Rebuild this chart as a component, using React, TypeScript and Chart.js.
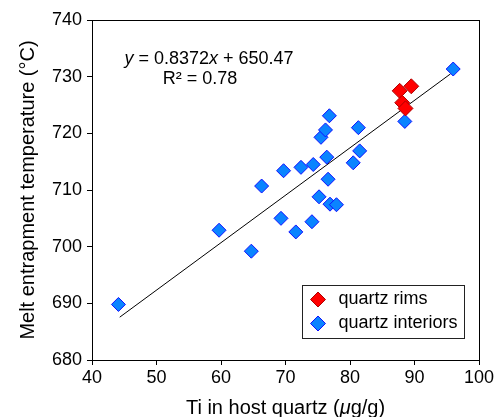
import React, { useEffect, useRef } from 'react';
import { Chart, registerables } from 'chart.js';

Chart.register(...registerables);

const FONT = '"Liberation Sans", Arial, Helvetica, sans-serif';

// Quartz rims (red)
const rimsTi = [87.7, 89.5, 88.1, 88.6];
const rimsT = [727.5, 728.3, 725.4, 724.4];

// Quartz interiors (blue)
const intTi = [44.1, 59.7, 64.7, 66.3, 69.3, 69.7, 71.6, 72.4, 74.1, 74.3, 75.2, 75.5, 76.2, 76.4, 76.6, 76.8, 76.9, 77.9, 80.5, 81.3, 81.5, 88.5, 96.0];
const intT = [689.8, 702.9, 699.2, 710.7, 705.0, 713.4, 702.6, 714.0, 704.4, 714.5, 708.8, 719.3, 720.6, 715.8, 711.9, 723.1, 707.5, 707.4, 714.8, 721.0, 716.9, 722.1, 731.35];

// Regression line y = slope * x + intercept, drawn over this x range
const slope = 0.8372;
const intercept = 650.47;
const fitX = [44.3, 95.6];

const seriesLabels = ['quartz rims', 'quartz interiors'];
const xTitleParts = ['Ti in host quartz (', 'μ', 'g/g)'];
const yTitle = 'Melt entrapment temperature (°C)';
const r2Text = 'R² = 0.78';

function diamond(ctx: CanvasRenderingContext2D, x: number, y: number, r: number) {
  ctx.beginPath();
  ctx.moveTo(x - r, y);
  ctx.lineTo(x, y - r);
  ctx.lineTo(x + r, y);
  ctx.lineTo(x, y + r);
  ctx.closePath();
}

function drawSegments(
  ctx: CanvasRenderingContext2D,
  parts: { t: string; italic?: boolean }[],
  cx: number,
  baseline: number,
  size: number
) {
  const fonts = parts.map((p) => `${p.italic ? 'italic ' : ''}${size}px ${FONT}`);
  let total = 0;
  const widths = parts.map((p, i) => {
    ctx.font = fonts[i];
    const w = ctx.measureText(p.t).width;
    total += w;
    return w;
  });
  let x = cx - total / 2;
  ctx.textAlign = 'left';
  ctx.textBaseline = 'alphabetic';
  parts.forEach((p, i) => {
    ctx.font = fonts[i];
    ctx.fillText(p.t, x, baseline);
    x += widths[i];
  });
}

const decor = {
  id: 'decor',
  afterDraw(chart: any) {
    const { ctx, chartArea: a } = chart;
    ctx.save();
    // plot frame
    ctx.strokeStyle = '#000';
    ctx.lineWidth = 1;
    const l = Math.round(a.left) + 0.5;
    const t = Math.round(a.top) + 0.5;
    const r = Math.round(a.right) + 0.5;
    const b = Math.round(a.bottom) + 0.5;
    ctx.strokeRect(l, t, r - l, b - t);

    ctx.fillStyle = '#000';
    // equation
    drawSegments(
      ctx,
      [
        { t: 'y', italic: true },
        { t: ` = ${slope}` },
        { t: 'x', italic: true },
        { t: ` + ${intercept}` },
      ],
      a.left + 117,
      a.top + 43.5,
      18
    );
    drawSegments(ctx, [{ t: r2Text }], a.left + 108, a.top + 64, 18);

    // x title
    drawSegments(
      ctx,
      [{ t: xTitleParts[0] }, { t: xTitleParts[1], italic: true }, { t: xTitleParts[2] }],
      (a.left + a.right) / 2,
      chart.height - 3.5,
      20
    );

    // legend
    const bx1 = Math.round(a.right - 177) + 0.5;
    const bx2 = Math.round(a.right - 15) + 0.5;
    const by1 = Math.round(a.bottom - 75) + 0.5;
    const by2 = Math.round(a.bottom - 22) + 0.5;
    ctx.strokeStyle = '#222';
    ctx.strokeRect(bx1, by1, bx2 - bx1, by2 - by1);
    const ds = chart.data.datasets;
    [0, 1].forEach((i) => {
      const y = by1 + 14 + i * 24;
      const x = bx1 + 15.5;
      diamond(ctx, x, y, 7.5);
      ctx.fillStyle = ds[i].backgroundColor;
      ctx.fill();
      ctx.strokeStyle = ds[i].borderColor;
      ctx.lineWidth = 1;
      ctx.stroke();
      ctx.fillStyle = '#000';
      ctx.font = `18px ${FONT}`;
      ctx.textAlign = 'left';
      ctx.textBaseline = 'middle';
      ctx.fillText(ds[i].label, bx1 + 36, y);
    });
    ctx.restore();
  },
};

export default function App() {
  const ref = useRef<HTMLCanvasElement | null>(null);

  useEffect(() => {
    document.body.style.margin = '0';
    document.body.style.overflow = 'hidden';
    const canvas = ref.current;
    if (!canvas) return;

    const tickFont = { family: FONT, size: 18 };
    const chart = new Chart(canvas, {
      type: 'scatter',
      data: {
        datasets: [
          {
            label: seriesLabels[0],
            data: rimsTi.map((x, i) => ({ x, y: rimsT[i] })),
            pointStyle: 'rectRot',
            pointRadius: 7.5,
            backgroundColor: '#ff0000',
            borderColor: '#b00000',
            borderWidth: 1,
            order: 1,
          },
          {
            label: seriesLabels[1],
            data: intTi.map((x, i) => ({ x, y: intT[i] })),
            pointStyle: 'rectRot',
            pointRadius: 7,
            backgroundColor: '#0a84ff',
            borderColor: '#1010ff',
            borderWidth: 1,
            order: 2,
          },
          {
            type: 'line',
            label: 'fit',
            data: fitX.map((x) => ({ x, y: slope * x + intercept })),
            borderColor: '#000',
            borderWidth: 1,
            pointRadius: 0,
            showLine: true,
            fill: false,
            order: 3,
          } as any,
        ],
      },
      options: {
        responsive: false,
        animation: false,
        events: [],
        layout: { padding: { top: 20, right: 22, left: 0, bottom: 0 } },
        plugins: {
          legend: { display: false },
          tooltip: { enabled: false },
        },
        scales: {
          x: {
            type: 'linear',
            min: 40,
            max: 100,
            afterFit: (s: any) => {
              s.height = 57;
            },
            ticks: { stepSize: 10, color: '#000', font: tickFont, padding: 2, maxRotation: 0 },
            grid: { display: true, drawOnChartArea: false, drawTicks: true, tickLength: 5, color: '#000' },
            border: { display: false },
            title: { display: false },
          },
          y: {
            type: 'linear',
            min: 680,
            max: 740,
            afterFit: (s: any) => {
              s.width = 92;
            },
            ticks: { stepSize: 10, color: '#000', font: tickFont, padding: 5 },
            grid: { display: true, drawOnChartArea: false, drawTicks: true, tickLength: 5, color: '#000' },
            border: { display: false },
            title: {
              display: true,
              text: yTitle,
              color: '#000',
              font: { family: FONT, size: 20, lineHeight: 1.2 },
              padding: { top: 16, bottom: 0 },
            },
          },
        },
      },
      plugins: [decor],
    });
    return () => chart.destroy();
  }, []);

  return (
    <div style={{ width: 501, height: 417 }}>
      <canvas ref={ref} width={501} height={417} style={{ display: 'block' }} />
    </div>
  );
}
